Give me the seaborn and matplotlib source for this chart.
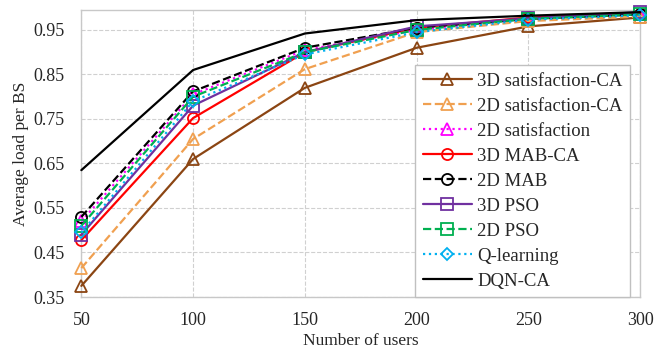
import numpy as np
import pandas as pd
import matplotlib
matplotlib.use("Agg")
import matplotlib.pyplot as plt
import seaborn as sns

users = [50, 100, 150, 200, 250, 300]

sat3d_ca = [0.375, 0.660, 0.820, 0.910, 0.958, 0.978]
sat2d_ca = [0.415, 0.705, 0.862, 0.945, 0.970, 0.980]
sat2d = [0.520, 0.805, 0.905, 0.950, 0.975, 0.985]
mab3d_ca = [0.478, 0.752, 0.900, 0.955, 0.978, 0.986]
mab2d = [0.530, 0.812, 0.910, 0.955, 0.975, 0.985]
pso3d = [0.490, 0.780, 0.900, 0.958, 0.976, 0.990]
pso2d = [0.510, 0.800, 0.900, 0.950, 0.975, 0.985]
qlearn = [0.495, 0.790, 0.895, 0.945, 0.973, 0.983]
dqn_ca = [0.635, 0.860, 0.942, 0.972, 0.982, 0.990]

series = [
    ("3D satisfaction-CA", sat3d_ca, "#8B4513", "-", "^"),
    ("2D satisfaction-CA", sat2d_ca, "#F0A050", "--", "^"),
    ("2D satisfaction", sat2d, "#FF00FF", ":", "^"),
    ("3D MAB-CA", mab3d_ca, "#FF0000", "-", "o"),
    ("2D MAB", mab2d, "#000000", "--", "o"),
    ("3D PSO", pso3d, "#7030A0", "-", "s"),
    ("2D PSO", pso2d, "#00B050", "--", "s"),
    ("Q-learning", qlearn, "#00B0F0", ":", "D"),
    ("DQN-CA", dqn_ca, "#000000", "-", None),
]

sns.set_style("white")
plt.rcParams["font.family"] = ["Liberation Serif", "DejaVu Serif"]

fig = plt.figure(figsize=(6.56, 3.54), dpi=100)
ax = fig.add_axes([0.124, 0.161, 0.852, 0.811])

for name, vals, col, ls, mk in series:
    df = pd.DataFrame({"users": users, "load": vals})
    sns.lineplot(data=df, x="users", y="load", ax=ax, color=col, linestyle=ls,
                 marker=mk, markersize=8 if mk != "D" else 6,
                 markerfacecolor="none", markeredgecolor=col, markeredgewidth=1.3,
                 linewidth=1.6, label=name, clip_on=False, zorder=3)

ax.set_xlim(50, 300)
ax.set_ylim(0.35, 0.995)
ax.set_xticks(users)
ax.set_yticks([0.35, 0.45, 0.55, 0.65, 0.75, 0.85, 0.95])
ax.set_yticklabels(["0.35", "0.45", "0.55", "0.65", "0.75", "0.85", "0.95"])
ax.tick_params(labelsize=13, length=0)
ax.tick_params(axis="x", pad=11)
ax.tick_params(axis="y", pad=12)
ax.grid(True, color="#d0d0d0", linestyle="--", linewidth=0.8)
for s in ax.spines.values():
    s.set_color("#c8c8c8")
    s.set_linewidth(1.0)
ax.set_xlabel("Number of users", fontsize=12.5, labelpad=3)
ax.set_ylabel("Average load per BS", fontsize=12.5, labelpad=3)

leg = ax.legend(loc="lower right", fontsize=13.5, frameon=True, fancybox=False,
                edgecolor="#c0c0c0", framealpha=1, labelspacing=0.42,
                handlelength=2.6, handletextpad=0.3, borderpad=0.4,
                borderaxespad=0, bbox_to_anchor=(0.982, 0.0))
leg.get_frame().set_linewidth(1.0)
leg.set_zorder(5)

fig.savefig("out.png", dpi=100)
